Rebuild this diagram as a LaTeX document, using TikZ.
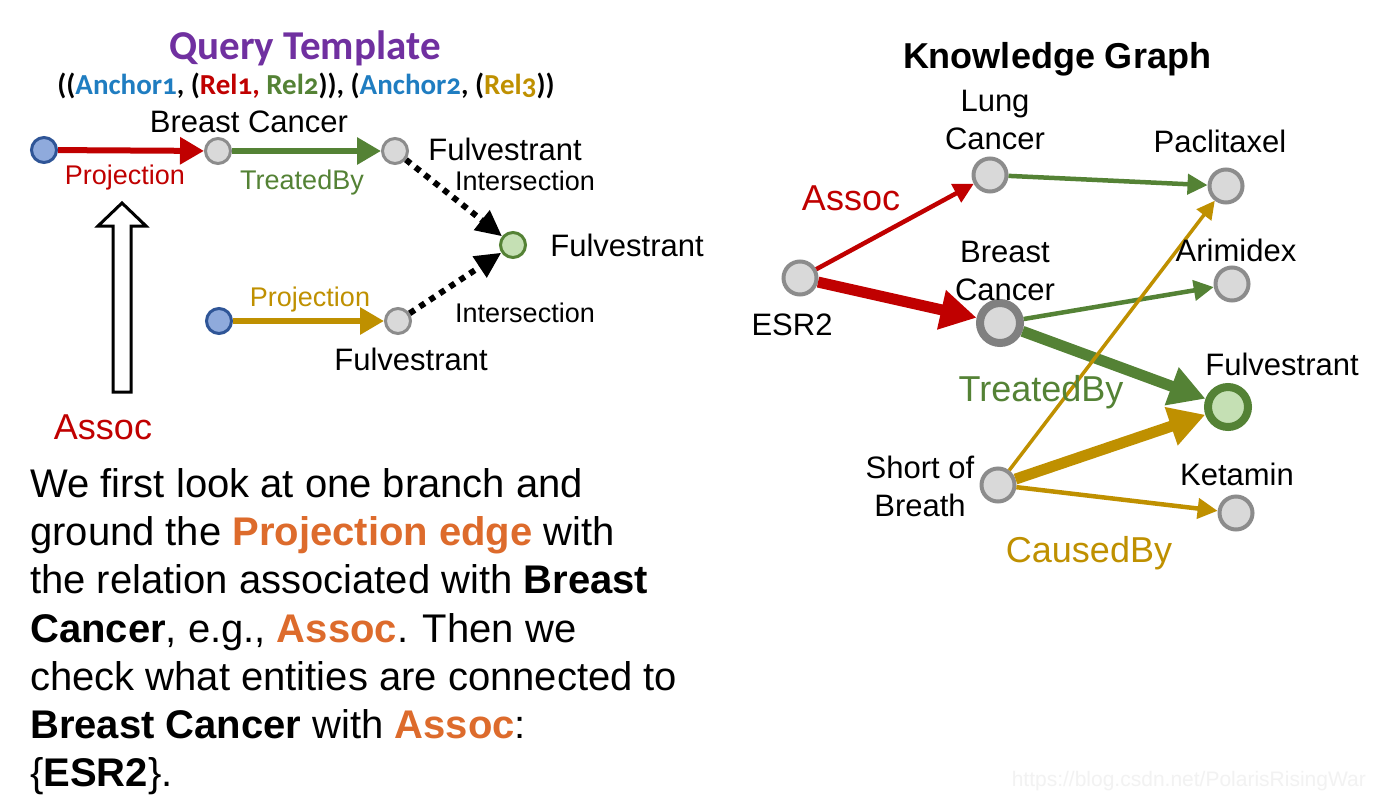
\documentclass[tikz,border=0pt]{standalone}
\usepackage{fontspec}
\setmainfont{Liberation Sans}
\newfontfamily\calfont{Carlito}[Numbers=OldStyle]
\usetikzlibrary{arrows.meta}
\definecolor{qred}{HTML}{C00000}
\definecolor{qgreen}{HTML}{548235}
\definecolor{qgold}{HTML}{BF9000}
\definecolor{qblue}{HTML}{1F7DC1}
\definecolor{qpurple}{HTML}{7030A0}
\definecolor{qorange}{HTML}{DD6B2C}
\definecolor{ngray}{HTML}{D9D9D9}
\definecolor{ngrayd}{HTML}{8C8C8C}
\definecolor{nblue}{HTML}{8FAADC}
\definecolor{nblued}{HTML}{2F5597}
\definecolor{ngreen}{HTML}{C5E0B4}
\newcommand{\fs}[1]{\fontsize{#1}{#1}\selectfont}
\newcommand{\fsl}[2]{\fontsize{#1}{#2}\selectfont}
\tikzset{
  bnode/.style={circle, draw=nblued, fill=nblue, line width=3pt, minimum size=25pt, inner sep=0pt},
  gnode/.style={circle, draw=ngrayd, fill=ngray, line width=3pt, minimum size=25pt, inner sep=0pt},
  fnode/.style={circle, draw=qgreen, fill=ngreen, line width=3pt, minimum size=25pt, inner sep=0pt},
  kg/.style={circle, draw=ngrayd, fill=ngray, line width=4pt, minimum size=33pt, inner sep=0pt},
  lbl/.style={font=\fs{31}, text=black, inner sep=0pt},
  lbl2/.style={font=\fsl{31}{38}, text=black, inner sep=0pt, align=center},
  slbl/.style={font=\fs{27}, inner sep=0pt},
  blbl/.style={font=\fs{36}, inner sep=0pt},
  para/.style={font=\fs{40}, anchor=base west, inner sep=0pt},
  qarrow/.style={line width=6pt, -{Triangle[length=24pt,width=26pt]}},
  dotarrow/.style={line width=6pt, dash pattern=on 6pt off 6pt, -{Triangle[length=26pt,width=24pt]}},
  thinarr/.style={line width=4.5pt, -{Triangle[length=20pt,width=20pt]}},
  thickarr/.style={line width=11pt, -{Triangle[length=36pt,width=38pt]}},
}
\begin{document}
\begin{tikzpicture}[x=1pt,y=-1pt]
\fill[white] (0,0) rectangle (1400,806);
\useasboundingbox (0,0) rectangle (1400,806);

% ---------- Query template ----------
\node[text=qpurple, font=\calfont\bfseries\fs{41}, inner sep=0pt] (qt) at (305,48) {Query Template};
\node[font=\calfont\bfseries\fs{29}, inner sep=0pt] (tmpl) at (306,86)
  {((\textcolor{qblue}{Anchor1}, (\textcolor{qred}{Rel1,} \textcolor{qgreen}{Rel2})), (\textcolor{qblue}{Anchor2}, (\textcolor{qgold}{Rel3}))};

\node[bnode] (a1) at (44,150) {};
\node[gnode] (bc) at (218,151) {};
\node[gnode] (fu1) at (395,151) {};
\node[fnode] (fu) at (513,245) {};
\node[bnode] (a2) at (219,321) {};
\node[gnode] (fu2) at (398,321) {};

\draw[qarrow, qred] (a1) -- (bc);
\draw[qarrow, qgreen] (bc) -- (fu1);
\draw[qarrow, qgold] (a2) -- (fu2);
\draw[dotarrow] (fu1) -- (fu);
\draw[dotarrow] (fu2) -- (fu);

\node[lbl] (lbc) at (249,122) {Breast Cancer};
\node[slbl, text=qred] (lproj1) at (125,178) {Projection};
\node[slbl, text=qgreen] (ltb) at (302,183) {TreatedBy};
\node[lbl] (lfu1) at (505,149) {Fulvestrant};
\node[slbl] (lint1) at (525,181) {Intersection};
\node[lbl] (lfu) at (627,245) {Fulvestrant};
\node[slbl, text=qgold] (lproj2) at (310,300) {Projection};
\node[lbl] (lfu2) at (411,359) {Fulvestrant};
\node[slbl] (lint2) at (525,313) {Intersection};

% hollow arrow
\draw[line width=3pt, fill=white, line join=miter]
  (113,392) -- (113,226) -- (98,226) -- (122,203) -- (146,226) -- (131,226) -- (131,392) -- cycle;
\node[blbl, text=qred] (lassoc) at (103,427) {Assoc};

% ---------- paragraph ----------
\node[para] (p1) at (30,497) {We first look at one branch and};
\node[para] (p2) at (30,545) {ground the \textcolor{qorange}{\bfseries Projection edge} with};
\node[para] (p3) at (30,593) {the relation associated with \textbf{Breast}};
\node[para] (p4) at (30,642) {\textbf{Cancer}, e.g., \textcolor{qorange}{\bfseries Assoc}. Then we};
\node[para] (p5) at (30,690) {check what entities are connected to};
\node[para] (p6) at (30,738) {\textbf{Breast Cancer} with \textcolor{qorange}{\bfseries Assoc}:};
\node[para] (p7) at (30,786) {\{\textbf{ESR2}\}.};

% ---------- knowledge graph ----------
\node[font=\bfseries\fs{36}, inner sep=0pt] (kgt) at (1057,59) {Knowledge Graph};

\node[kg] (esr) at (800,278) {};
\node[kg] (lung) at (990,175) {};
\node[kg] (pac) at (1226,186) {};
\node[kg] (ari) at (1232,284) {};
\node[kg] (short) at (998,485) {};
\node[kg] (ket) at (1236,513) {};
\node[kg, draw=black!50, line width=8pt, minimum size=40pt] (bcr) at (1000,323) {};
\node[kg, draw=qgreen, fill=ngreen, line width=8pt, minimum size=40pt] (fur) at (1228,407) {};

\draw[thinarr, qred] (esr) -- (lung);
\draw[thickarr, qred] (esr) -- (bcr);
\draw[thinarr, qgreen] (lung) -- (pac);
\draw[thinarr, qgreen] (bcr) -- (ari);
\draw[thickarr, qgreen] (bcr) -- (fur);
\draw[line width=3.5pt, qgold, -{Triangle[length=18pt,width=18pt]}] (short) -- (pac);
\draw[thickarr, qgold] (short) -- (fur);
\draw[thinarr, qgold] (short) -- (ket);

\node[lbl2] (llung) at (995,120) {Lung\\Cancer};
\node[lbl] (lpac) at (1220,141) {Paclitaxel};
\node[blbl, text=qred] (lassoc2) at (851,198) {Assoc};
\node[lbl2] (lbcr) at (1005,271) {Breast\\Cancer};
\node[lbl] (lari) at (1236,250) {Arimidex};
\node[lbl] (lesr) at (792,325) {ESR2};
\node[lbl] (lfur) at (1282,364) {Fulvestrant};
\node[blbl, text=qgreen] (ltb2) at (1041,392) {TreatedBy};
\node[lbl2] (lshort) at (920,486) {Short of\\Breath};
\node[lbl] (lket) at (1237,474) {Ketamin};
\node[blbl, text=qgold] (lcb) at (1089,553) {CausedBy};

\node[text=black!5, font=\fs{21}, anchor=base east, inner sep=0pt] (wm) at (1366,786) {https://blog.csdn.net/PolarisRisingWar};
\end{tikzpicture}
\end{document}
